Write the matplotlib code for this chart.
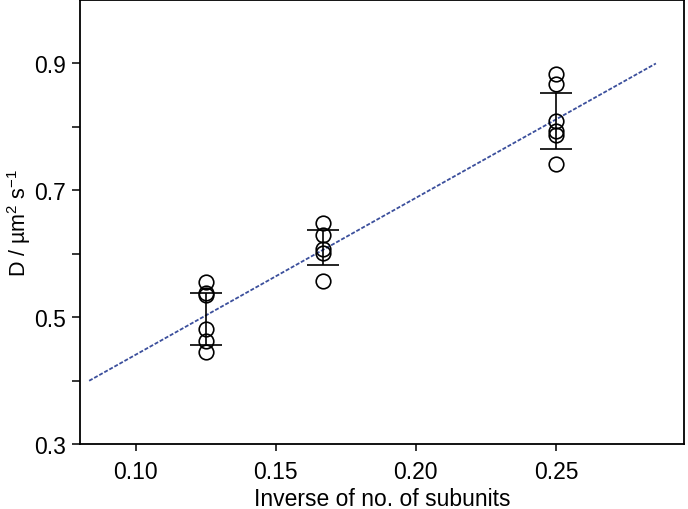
import matplotlib
matplotlib.use('Agg')
import matplotlib.pyplot as plt
import numpy as np

plt.rcParams['font.family'] = ['Liberation Sans', 'DejaVu Sans']
plt.rcParams['mathtext.fontset'] = 'custom'
plt.rcParams['mathtext.rm'] = 'Liberation Sans'
plt.rcParams['mathtext.it'] = 'Liberation Sans:italic'

# data
x_groups = [1/8, 1/6, 1/4]
d_8 = [0.555, 0.538, 0.535, 0.481, 0.462, 0.446]
d_6 = [0.648, 0.629, 0.607, 0.602, 0.557]
d_4 = [0.884, 0.867, 0.809, 0.793, 0.788, 0.741]
means = [0.4975, 0.610, 0.8095]
sds = [0.0415, 0.027, 0.0445]

# fitted line
fit_x = [1/12, 2/7]
fit_y = [0.40, 0.90]

fig = plt.figure(figsize=(6.88, 5.10), dpi=100)
ax = fig.add_axes([0.116, 0.127, 0.878, 0.871])

ax.plot(fit_x, fit_y, color='#3b4f9c', lw=1.3, ls=(0, (2.2, 1)), zorder=1)

for xv, vals in zip(x_groups, [d_8, d_6, d_4]):
    ax.plot([xv] * len(vals), vals, 'o', mfc='none', mec='black', ms=10.5, mew=1.2, zorder=3)

ax.errorbar(x_groups, means, yerr=sds, fmt='none', ecolor='black', elinewidth=1.2,
            capsize=11.5, capthick=1.2, zorder=2)

ax.set_xlim(0.08, 0.2957)
ax.set_ylim(0.3, 1.0)
ax.set_xticks([0.10, 0.15, 0.20, 0.25])
ax.set_xticklabels(['0.10', '0.15', '0.20', '0.25'])
ax.set_yticks([0.3, 0.5, 0.7, 0.9])
ax.set_yticklabels(['0.3', '0.5', '0.7', '0.9'])
ax.set_yticks([0.4, 0.6, 0.8], minor=True)

ax.tick_params(axis='both', which='both', direction='out', labelsize=16.5, width=1.1)
ax.tick_params(axis='y', which='both', length=6, pad=4)
ax.tick_params(axis='x', which='major', length=5, pad=6)

for s in ax.spines.values():
    s.set_linewidth(1.3)

ax.set_xlabel('Inverse of no. of subunits', fontsize=16.5, labelpad=3)
ax.set_ylabel(r'D / µm$^2$ s$^{-1}$', fontsize=15.5, labelpad=1)

fig.savefig('out.png', dpi=100)
